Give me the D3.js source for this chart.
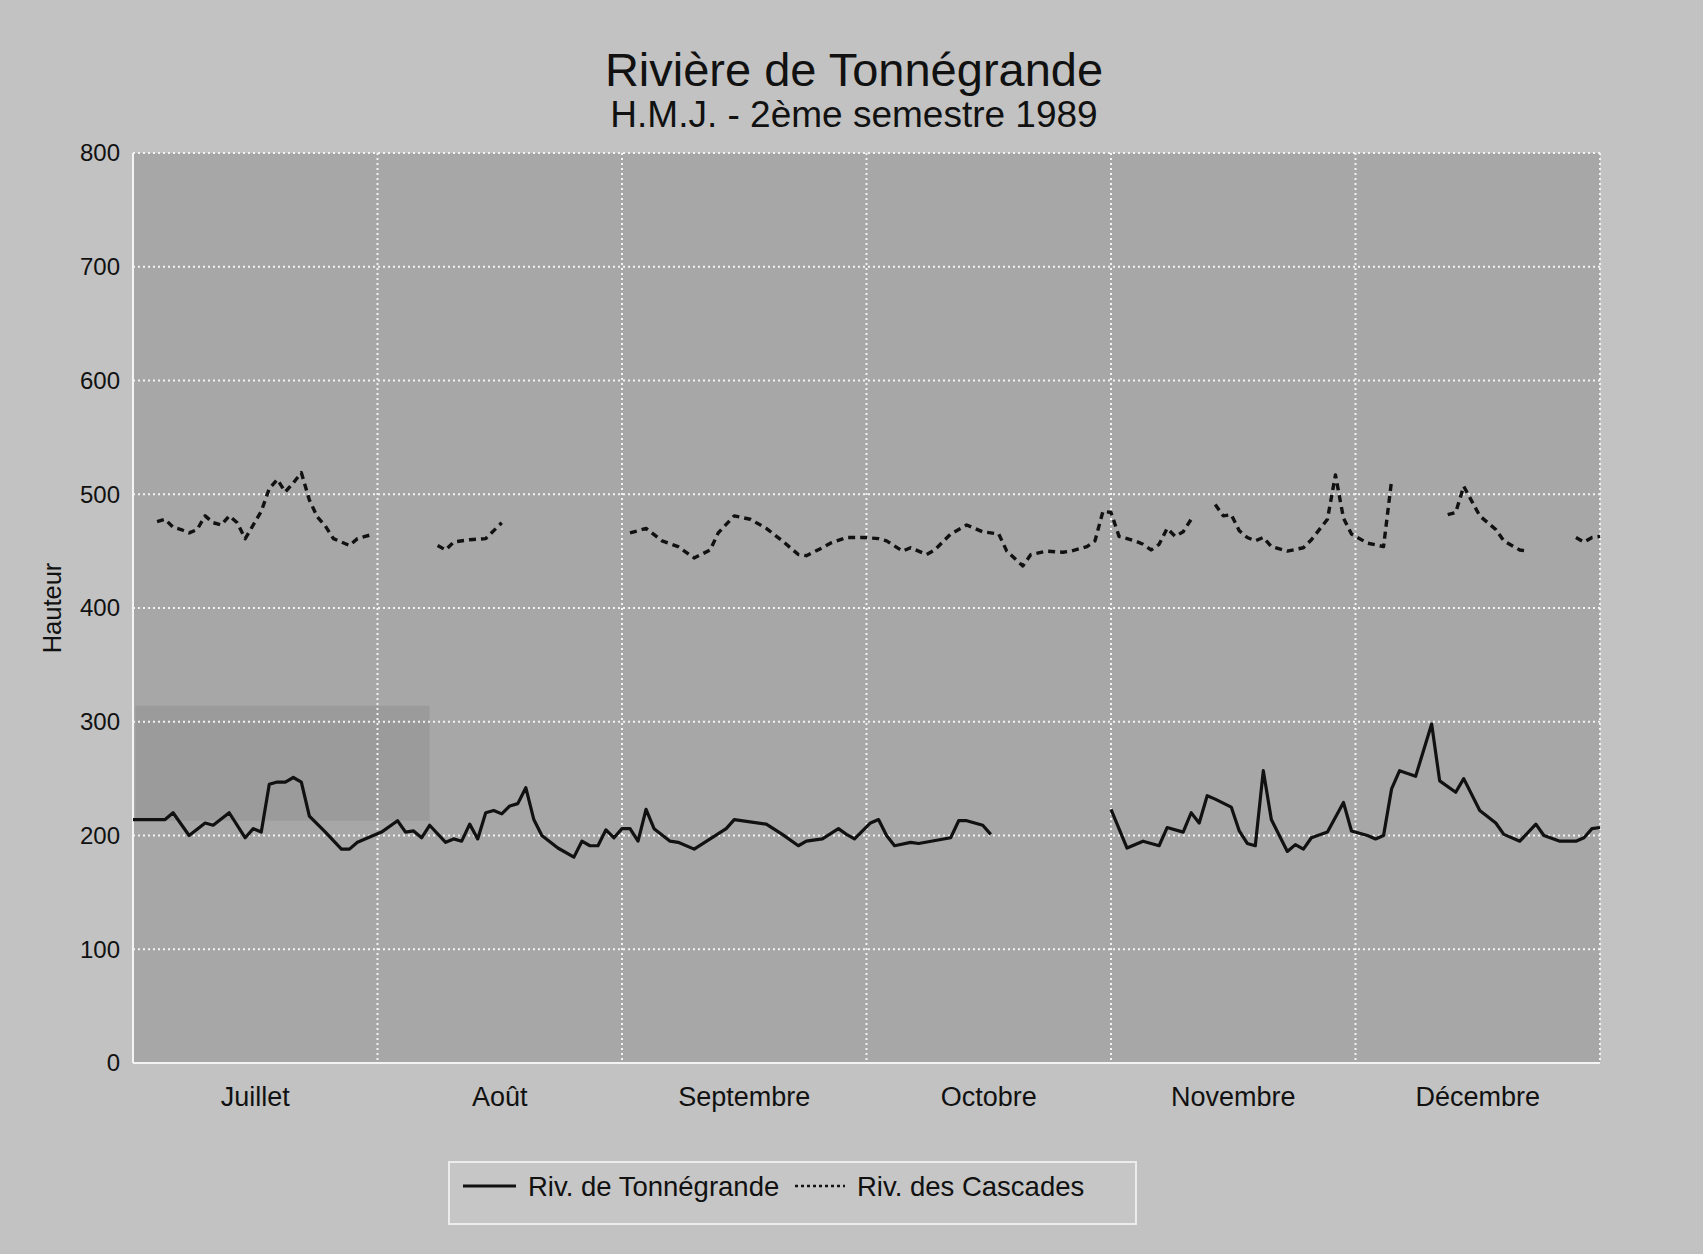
<!DOCTYPE html>
<html>
<head>
<meta charset="utf-8">
<script src="https://cdn.jsdelivr.net/npm/d3@7"></script>
<style>
html,body{margin:0;padding:0;background:#c2c2c2;}
svg{display:block;}
text{font-family:"Liberation Sans",Arial,Helvetica,sans-serif;fill:#111;}
</style>
</head>
<body>
<svg id="chart" width="1703" height="1254"></svg>
<script>
// ---------- DATA ----------
const months = ["Juillet","Août","Septembre","Octobre","Novembre","Décembre"];
const yTicks = [0,100,200,300,400,500,600,700,800];
const seriesNames = ["Riv. de Tonnégrande","Riv. des Cascades"];

// day index from 1 July 1989 (0) to 31 Dec 1989 (183); null value = missing data
const tonneDays = [0,4,5,7,9,10,12,14,15,16,17,18,19,20,21,22,24,26,27,28,31,33,34,35,36,37,39,40,41,42,43,44,45,46,47,48,49,50,51,53,55,56,57,58,59,60,61,62,63,64,65,67,68,70,72,74,75,79,81,83,84,86,88,89,90,92,93,94,95,97,98,102,103,104,106,107,
  115,
  122,124,126,128,129,131,132,133,134,135,137,138,139,140,141,142,144,145,146,147,149,151,152,154,155,156,157,158,160,162,163,165,166,168,170,171,173,175,176,178,180,181,182,183];
const tonneVals = [214,214,220,200,211,209,220,198,206,203,245,247,247,251,247,217,203,188,188,194,203,213,203,204,198,209,194,197,195,210,197,220,222,219,226,228,242,214,200,189,181,195,191,191,205,198,206,206,195,223,206,195,194,188,197,206,214,210,201,191,195,197,206,201,197,211,214,200,191,194,193,198,213,213,209,201,
  null,
  223,189,195,191,207,203,220,211,235,232,225,204,193,191,257,214,186,192,188,198,203,229,204,200,197,200,241,257,252,298,248,238,250,222,211,201,195,210,200,195,195,198,206,207];

const cascDays = [3,4,5,6,7,8,9,10,11,12,13,14,16,17,18,19,20,21,22,23,24,25,27,28,30,
  34,
  38,39,40,42,44,46,
  54,
  62,64,66,68,70,72,73,75,77,79,81,83,84,86,87,89,91,93,94,96,97,99,100,102,104,106,108,109,111,112,114,116,117,119,120,121,122,123,125,126,127,128,129,130,131,132,
  134,
  135,136,137,138,139,140,141,142,144,146,147,149,150,151,152,154,156,157,
  160,
  164,165,166,167,168,170,171,173,174,
  177,
  180,181,182,183];
const cascVals = [476,478,471,469,466,469,481,475,473,481,475,461,485,505,513,502,510,519,495,480,472,461,455,461,465,
  null,
  455,451,458,460,461,475,
  null,
  466,470,459,454,444,451,466,481,478,470,459,447,446,453,457,462,462,461,459,450,453,447,451,465,473,467,465,450,437,447,450,449,450,454,459,485,484,463,459,456,451,456,470,463,467,478,
  null,
  491,481,482,468,462,459,462,454,450,453,460,478,517,479,465,457,454,512,
  null,
  482,484,507,494,481,469,459,451,450,
  null,
  462,458,462,463];

// ---------- CHART ----------
const svg = d3.select("#chart");
const W = 1703, H = 1254;
const plot = {left:133, right:1600, top:153, bottom:1063};
const lastDay = 183;

const x = d3.scaleLinear().domain([0, lastDay]).range([plot.left, plot.right]);
const y = d3.scaleLinear().domain([0, 800]).range([plot.bottom, plot.top]);

svg.append("rect").attr("width", W).attr("height", H).attr("fill", "#c2c2c2");
svg.append("rect")
  .attr("x", x(0)).attr("y", y(800))
  .attr("width", x(lastDay) - x(0)).attr("height", y(0) - y(800))
  .attr("fill", "#a7a7a7");
// darker scan shading seen in the original print (July, around 215-315)
svg.append("rect")
  .attr("x", x(0.3)).attr("y", y(314))
  .attr("width", x(37) - x(0.3)).attr("height", y(213) - y(314))
  .attr("fill", "#8f8f8f").attr("opacity", 0.45);

// horizontal grid
svg.append("g").selectAll("line").data(yTicks.filter(d => d > 0)).join("line")
  .attr("x1", x(0)).attr("x2", x(lastDay))
  .attr("y1", d => y(d)).attr("y2", d => y(d))
  .attr("stroke", "#f4f4f4").attr("stroke-width", 2).attr("stroke-dasharray", "2,3");

// vertical grid (6 equal month slots)
const slot = lastDay / months.length;
svg.append("g").selectAll("line").data(d3.range(1, months.length + 1)).join("line")
  .attr("x1", i => x(i * slot)).attr("x2", i => x(i * slot))
  .attr("y1", y(800)).attr("y2", y(0))
  .attr("stroke", "#f4f4f4").attr("stroke-width", 2).attr("stroke-dasharray", "2,3");

// axis lines
svg.append("line").attr("x1", x(0)).attr("x2", x(0)).attr("y1", y(800)).attr("y2", y(0))
  .attr("stroke", "#f4f4f4").attr("stroke-width", 2);
svg.append("line").attr("x1", x(0)).attr("x2", x(lastDay)).attr("y1", y(0)).attr("y2", y(0))
  .attr("stroke", "#f4f4f4").attr("stroke-width", 2);

// y tick labels
svg.append("g").selectAll("text").data(yTicks).join("text")
  .attr("x", plot.left - 13).attr("y", d => y(d)).attr("dy", "0.35em")
  .attr("text-anchor", "end").attr("font-size", 24)
  .text(d => d);

// month labels
svg.append("g").selectAll("text").data(months).join("text")
  .attr("x", (d, i) => x((i + 0.5) * slot)).attr("y", 1106)
  .attr("text-anchor", "middle").attr("font-size", 27)
  .text(d => d);

// y axis title
svg.append("text").attr("transform", "translate(61,608) rotate(-90)")
  .attr("text-anchor", "middle").attr("font-size", 25.5).text("Hauteur");

// titles
svg.append("text").attr("x", 854).attr("y", 86).attr("text-anchor", "middle")
  .attr("font-size", 47).text("Rivière de Tonnégrande");
svg.append("text").attr("x", 854).attr("y", 127).attr("text-anchor", "middle")
  .attr("font-size", 37).text("H.M.J. - 2ème semestre 1989");

// lines
const line = d3.line()
  .defined(d => d.v !== null)
  .x(d => x(d.d)).y(d => y(d.v))
  .curve(d3.curveLinear);

const tonne = tonneDays.map((d, i) => ({d, v: tonneVals[i]}));
const casc = cascDays.map((d, i) => ({d, v: cascVals[i]}));

svg.append("path").datum(casc).attr("d", line)
  .attr("fill", "none").attr("stroke", "#111").attr("stroke-width", 3.4)
  .attr("stroke-dasharray", "7,5").attr("stroke-linejoin", "round");
svg.append("path").datum(tonne).attr("d", line)
  .attr("fill", "none").attr("stroke", "#111").attr("stroke-width", 3.2)
  .attr("stroke-linejoin", "round");

// legend
const lg = svg.append("g");
lg.append("rect").attr("x", 449).attr("y", 1162).attr("width", 687).attr("height", 62)
  .attr("fill", "#c6c6c6").attr("stroke", "#ececec").attr("stroke-width", 2);
const ly = 1186;
lg.append("line").attr("x1", 463).attr("x2", 516).attr("y1", ly).attr("y2", ly)
  .attr("stroke", "#111").attr("stroke-width", 3);
lg.append("text").attr("x", 528).attr("y", ly + 10).attr("font-size", 27.5)
  .text(seriesNames[0]);
lg.append("line").attr("x1", 795).attr("x2", 845).attr("y1", ly).attr("y2", ly)
  .attr("stroke", "#111").attr("stroke-width", 2.5).attr("stroke-dasharray", "3,3");
lg.append("text").attr("x", 857).attr("y", ly + 10).attr("font-size", 27.5)
  .text(seriesNames[1]);
</script>
</body>
</html>
